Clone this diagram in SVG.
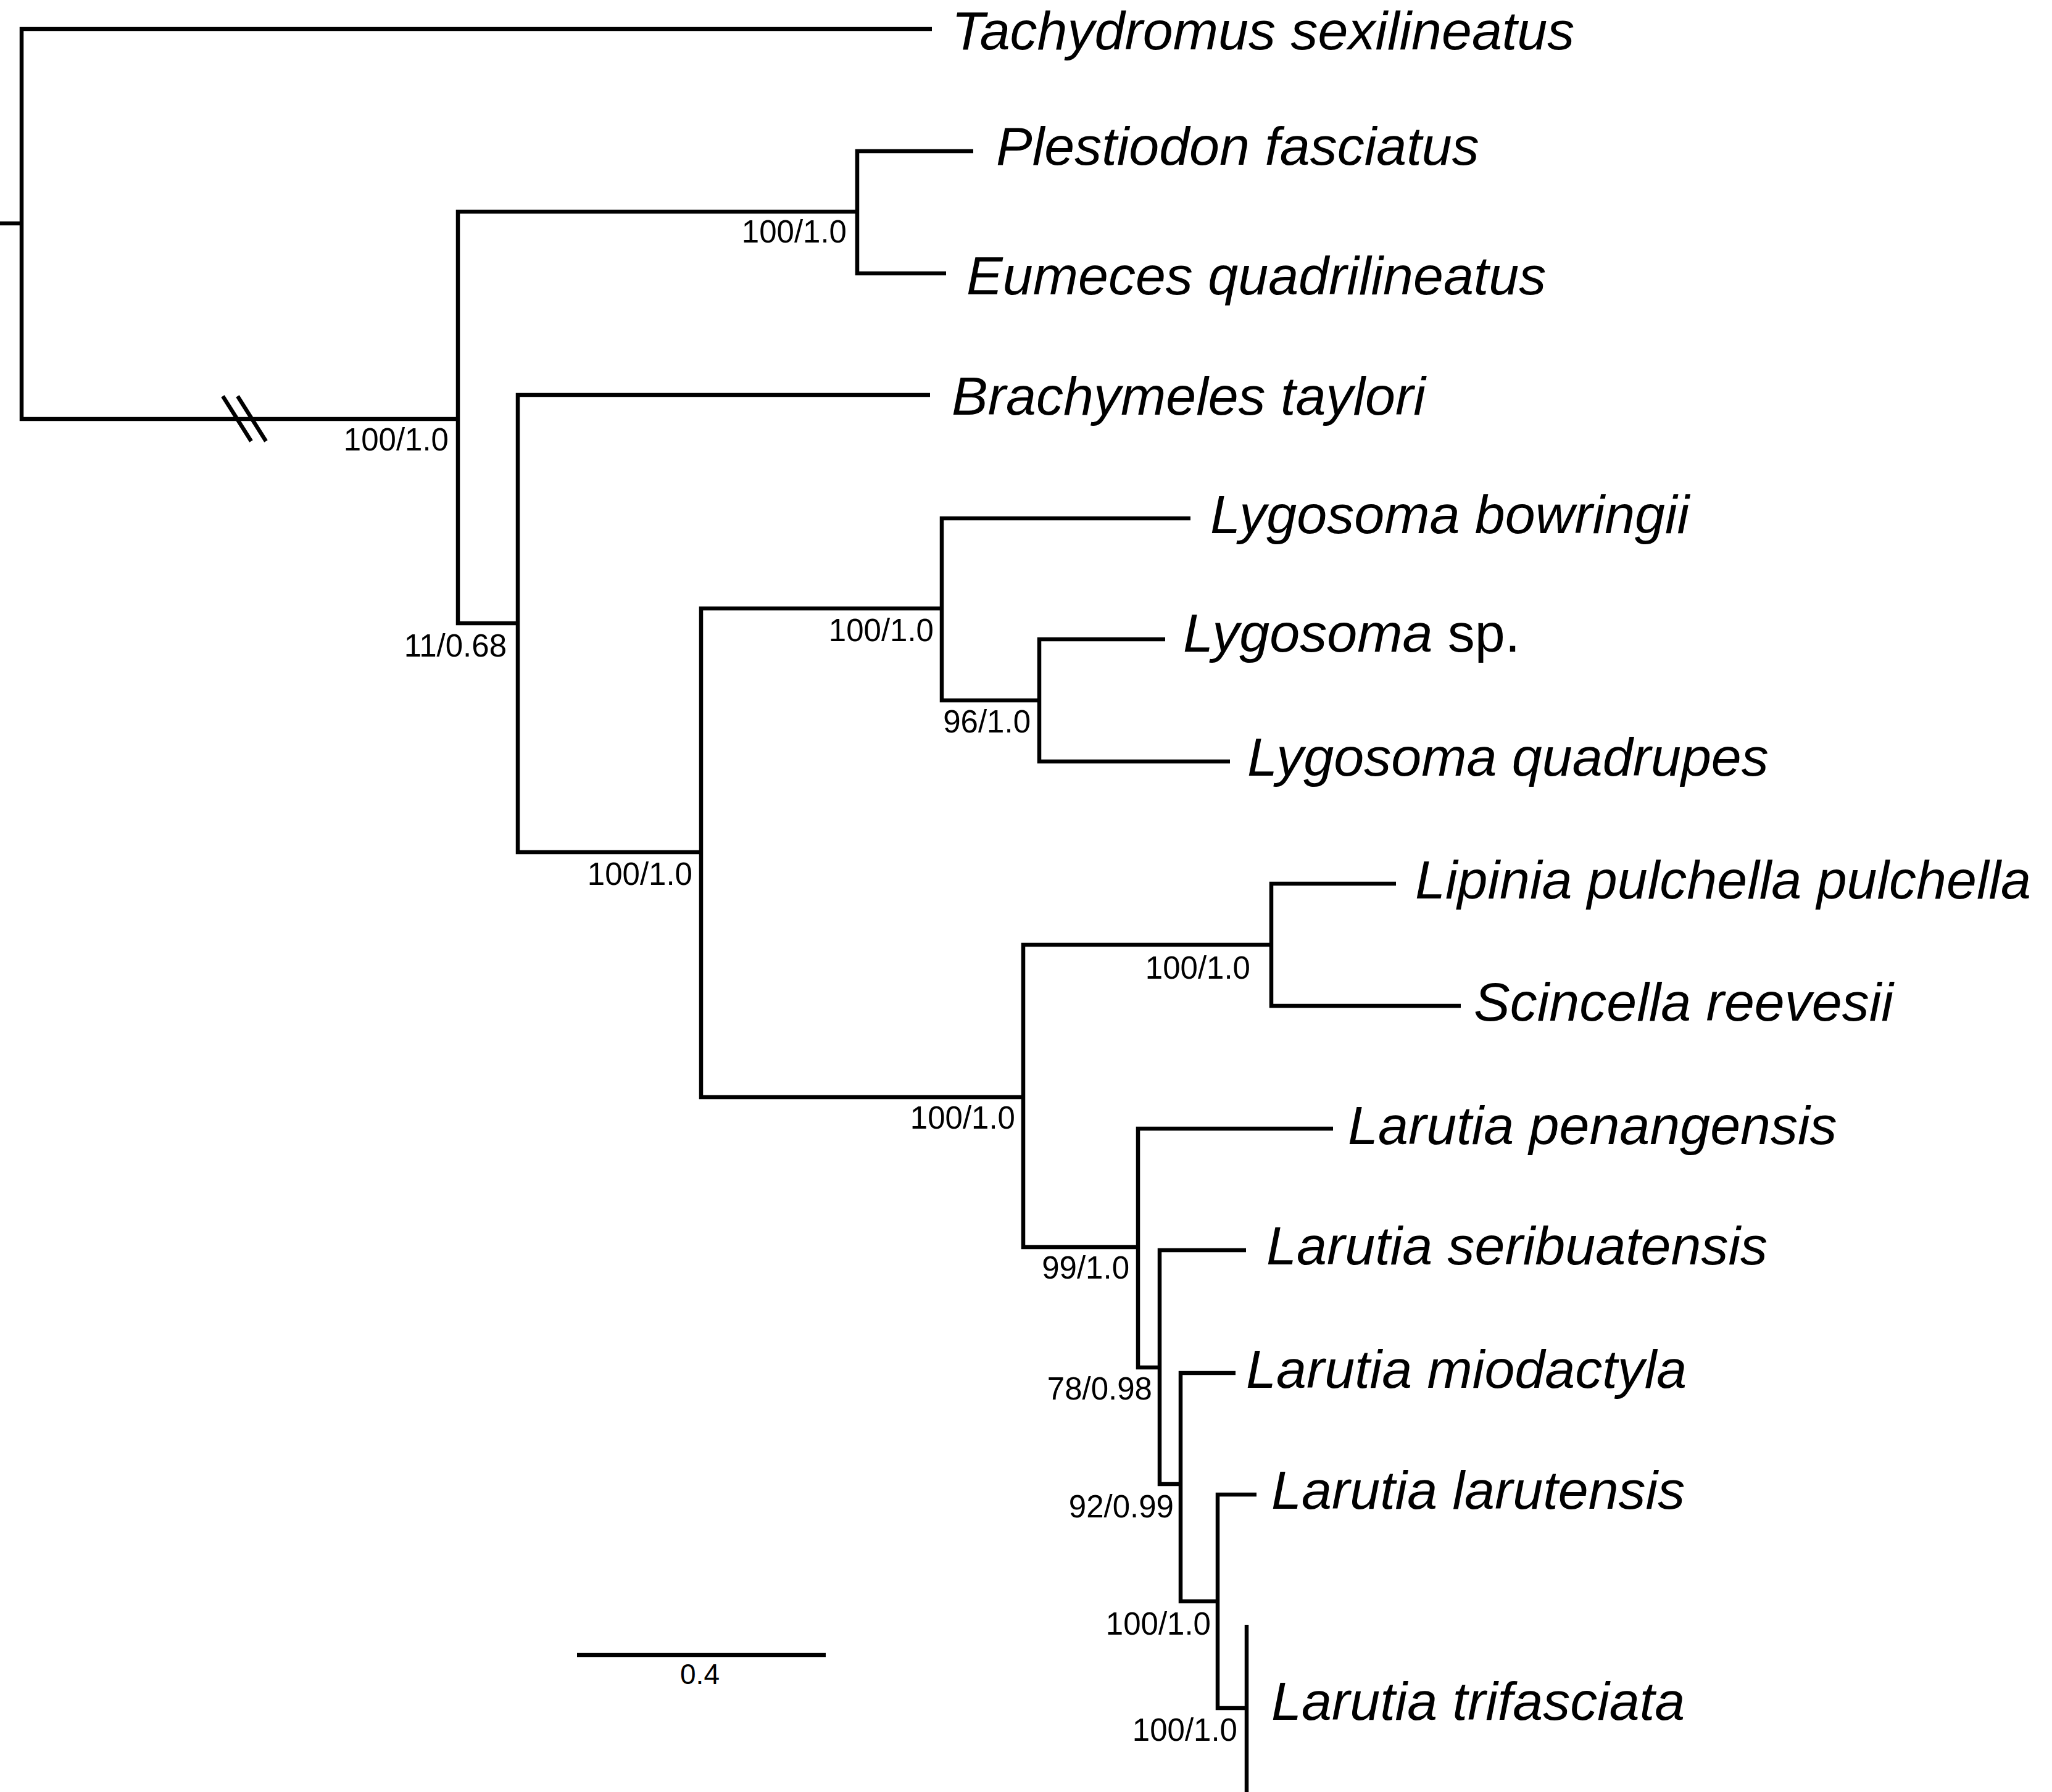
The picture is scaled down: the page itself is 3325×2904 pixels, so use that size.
<svg xmlns="http://www.w3.org/2000/svg" width="3325" height="2904" viewBox="0 0 3325 2904">
<style>
.br{fill:none;stroke:#000;stroke-width:6.5;stroke-linejoin:miter;stroke-linecap:butt}
.tx{font-family:"Liberation Sans",Arial,sans-serif;font-style:italic;font-size:88px;fill:#000}
.up{font-style:normal}
.sl{font-family:"Liberation Sans",Arial,sans-serif;font-size:51px;fill:#000;text-anchor:end}
.sc{font-family:"Liberation Sans",Arial,sans-serif;font-size:46px;fill:#000;text-anchor:middle}
</style>
<rect width="3325" height="2904" fill="#fff"/>
<g id="connectors">
<path class="br" d="M0 362 H35"/>
<path class="br" d="M1510 47 H35 V679 H742"/>
<path class="br" d="M361 642 L407 715 M385 642 L431 715"/>
<path class="br" d="M1389 343 H742 V1010 H839"/>
<path class="br" d="M1577 245 H1389 V443 H1533"/>
<path class="br" d="M1507 640 H839 V1381 H1136"/>
<path class="br" d="M1526 986 H1136 V1778 H1658"/>
<path class="br" d="M1929 840 H1526 V1135 H1684"/>
<path class="br" d="M1888 1036 H1684 V1234 H1993"/>
<path class="br" d="M2060 1531 H1658 V2021 H1844"/>
<path class="br" d="M2262 1432 H2060 V1630 H2367"/>
<path class="br" d="M2160 1829 H1844 V2216 H1879"/>
<path class="br" d="M2019 2026 H1879 V2405 H1913"/>
<path class="br" d="M2002 2225 H1913 V2595 H1973"/>
<path class="br" d="M2036 2422 H1973 V2768 H2020"/>
<path class="br" d="M2020 2633 V2904"/>
</g>
<g id="taxa">
<g id="t-tachydromus"><text class="tx" x="1542" y="80">Tachydromus sexilineatus</text></g>
<g id="t-plestiodon"><text class="tx" x="1614" y="267">Plestiodon fasciatus</text></g>
<g id="t-eumeces"><text class="tx" x="1566" y="477">Eumeces quadrilineatus</text></g>
<g id="t-brachymeles"><text class="tx" x="1542" y="672">Brachymeles taylori</text></g>
<g id="t-lbowringii"><text class="tx" x="1961" y="864">Lygosoma bowringii</text></g>
<g id="t-lsp"><text class="tx" x="1917" y="1056">Lygosoma<tspan class="up"> sp.</tspan></text></g>
<g id="t-lquadrupes"><text class="tx" x="2021" y="1257">Lygosoma quadrupes</text></g>
<g id="t-lipinia"><text class="tx" x="2293" y="1456">Lipinia pulchella pulchella</text></g>
<g id="t-scincella"><text class="tx" x="2388" y="1654">Scincella reevesii</text></g>
<g id="t-lpenangensis"><text class="tx" x="2184" y="1854">Larutia penangensis</text></g>
<g id="t-lseribuatensis"><text class="tx" x="2052" y="2049">Larutia seribuatensis</text></g>
<g id="t-lmiodactyla"><text class="tx" x="2019" y="2249">Larutia miodactyla</text></g>
<g id="t-llarutensis"><text class="tx" x="2060" y="2445">Larutia larutensis</text></g>
<g id="t-ltrifasciata"><text class="tx" x="2060" y="2787">Larutia trifasciata</text></g>
</g>
<g id="support">
<g id="n-a"><text class="sl" x="727" y="730">100/1.0</text></g>
<g id="n-b"><text class="sl" x="1372" y="393">100/1.0</text></g>
<g id="n-c"><text class="sl" x="821" y="1064">11/0.68</text></g>
<g id="n-d"><text class="sl" x="1122" y="1434">100/1.0</text></g>
<g id="n-e"><text class="sl" x="1513" y="1039">100/1.0</text></g>
<g id="n-f"><text class="sl" x="1670" y="1187">96/1.0</text></g>
<g id="n-g"><text class="sl" x="1645" y="1829">100/1.0</text></g>
<g id="n-h"><text class="sl" x="2026" y="1586">100/1.0</text></g>
<g id="n-i"><text class="sl" x="1830" y="2072">99/1.0</text></g>
<g id="n-j"><text class="sl" x="1867" y="2268">78/0.98</text></g>
<g id="n-k"><text class="sl" x="1902" y="2459">92/0.99</text></g>
<g id="n-l"><text class="sl" x="1962" y="2649">100/1.0</text></g>
<g id="n-m"><text class="sl" x="2005" y="2821">100/1.0</text></g>
</g>
<g id="scale">
<path class="br" d="M935 2682 H1338"/>
<text class="sc" x="1134" y="2729">0.4</text>
</g>
</svg>
